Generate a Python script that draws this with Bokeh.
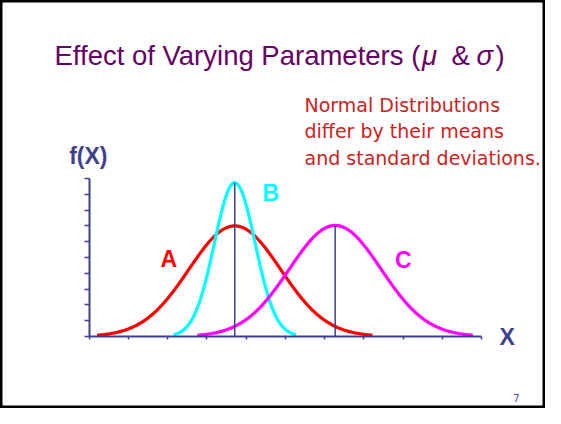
import numpy as np
from bokeh.plotting import figure
from bokeh.models import Range1d, LinearAxis, FixedTicker
from bokeh.core.properties import value
from bokeh.embed import file_html
from bokeh.resources import INLINE

# ---------------- data ----------------
curve_names = ["A", "B", "C"]
curve_means = [3.71, 3.71, 6.27]
curve_sigmas = [1.17, 0.52, 1.17]
curve_peaks = [7.0, 9.73, 7.03]
x_ticks = list(range(0, 11))
y_ticks = list(range(0, 11))
title_parts = ["Effect of Varying Parameters (", "\u03bc", "&", "\u03c3", ")"]
note_lines = ["Normal Distributions", "differ by their means", "and standard deviations."]
y_label = "f(X)"
x_label = "X"
page_number = "7"

# ---------------- layout / style ----------------
W, H = 545, 408
X_UNIT, Y_UNIT = 39.23, 15.8      # px per data unit
ORIGIN_X, ORIGIN_Y = 88.7, 72.0   # canvas px from left / bottom
AX = "#3f3f8f"
curve_colors = ["#ff0000", "#00ffff", "#ff00ff"]
BASE_SHIFT = 0.42                 # empirical baseline correction (em)


def P(xp, yp, size=0.0):
    """canvas pixel (glyph baseline) -> data coordinates (for annotation placement)"""
    return (xp - ORIGIN_X) / X_UNIT, (H - (yp - BASE_SHIFT * size) - ORIGIN_Y) / Y_UNIT


p = figure(width=W, height=H,
           x_range=Range1d(-ORIGIN_X / X_UNIT, (W - ORIGIN_X) / X_UNIT),
           y_range=Range1d(-ORIGIN_Y / Y_UNIT, (H - ORIGIN_Y) / Y_UNIT),
           x_axis_type=None, y_axis_type=None,
           toolbar_location=None, output_backend="svg", min_border=0)
p.outline_line_color = "black"
p.outline_line_width = 4
p.background_fill_color = "white"
p.border_fill_color = "white"

# axes crossing at the origin
yaxis = LinearAxis(fixed_location=0, bounds=(0, 10), ticker=FixedTicker(ticks=y_ticks),
                   axis_line_color=AX, axis_line_width=2,
                   major_tick_line_color=AX, major_tick_line_width=1.5,
                   major_tick_in=0, major_tick_out=5, minor_tick_line_color=None,
                   major_label_overrides={t: "" for t in y_ticks})
xaxis = LinearAxis(fixed_location=0, bounds=(0, 10), ticker=FixedTicker(ticks=x_ticks),
                   axis_line_color=AX, axis_line_width=2,
                   major_tick_line_color=AX, major_tick_line_width=1.5,
                   major_tick_in=0, major_tick_out=3, minor_tick_line_color=None,
                   major_label_overrides={t: "" for t in x_ticks})
p.add_layout(yaxis, "left")
p.add_layout(xaxis, "below")

# normal curves
for mu, sd, pk, col in zip(curve_means, curve_sigmas, curve_peaks, curve_colors):
    xs = np.linspace(mu - 3 * sd, mu + 3 * sd, 300)
    ys = pk * np.exp(-0.5 * ((xs - mu) / sd) ** 2)
    p.line(xs, ys, line_color=col, line_width=3.2, line_join="round")

# mean lines
for mu in sorted(set(curve_means)):
    top = max(pk for m, pk in zip(curve_means, curve_peaks) if m == mu)
    p.segment(x0=[mu], y0=[0], x1=[mu], y1=[top], line_color=AX, line_width=1.5)

# title
TITLE_FONT = value("Liberation Sans")
TS = 27.5
title_x = [54, 421.5, 451, 476, 495]
title_style = ["normal", "italic", "normal", "italic", "normal"]
for txt, xp, st in zip(title_parts, title_x, title_style):
    x, y = P(xp, 66.7, TS)
    p.text(x=[x], y=[y], text=[txt], text_font=TITLE_FONT, text_font_size=value(f"{TS}px"),
           text_font_style=st, text_color="#660066", text_baseline="alphabetic", text_align="left")

# note
NS = 19
for line, by in zip(note_lines, [112.3, 138.3, 165.0]):
    x, y = P(304, by, NS)
    p.text(x=[x], y=[y], text=[line], text_font=value("DejaVu Sans"), text_font_size=value(f"{NS}px"),
           text_color="#cc2222", text_baseline="alphabetic", text_align="left")

# axis labels
BOLD = value("Liberation Sans")
LS = 23
for txt, xp, yp, col in [(y_label, 87.8, 165.3, AX), (x_label, 506.7, 345.7, AX)]:
    x, y = P(xp, yp, LS)
    p.text(x=[x], y=[y], text=[txt], text_font=BOLD, text_font_size=value(f"{LS}px"),
           text_font_style="bold", text_color=col, text_baseline="alphabetic", text_align="center")

# curve labels
label_pos = [(168.3, 268.3), (270.3, 201.7), (402.8, 269.3)]
for name, (xp, yp), col in zip(curve_names, label_pos, curve_colors):
    x, y = P(xp, yp, LS)
    p.text(x=[x], y=[y], text=[name], text_font=BOLD, text_font_size=value(f"{LS}px"),
           text_font_style="bold", text_color=col, text_baseline="alphabetic", text_align="center")

# page number
PS = 10.5
x, y = P(515.8, 402, PS)
p.text(x=[x], y=[y], text=[page_number], text_font=value("DejaVu Sans"), text_font_size=value(f"{PS}px"),
       text_color="#55559f", text_baseline="alphabetic", text_align="center")

open("out.html", "w").write(file_html(p, INLINE))
